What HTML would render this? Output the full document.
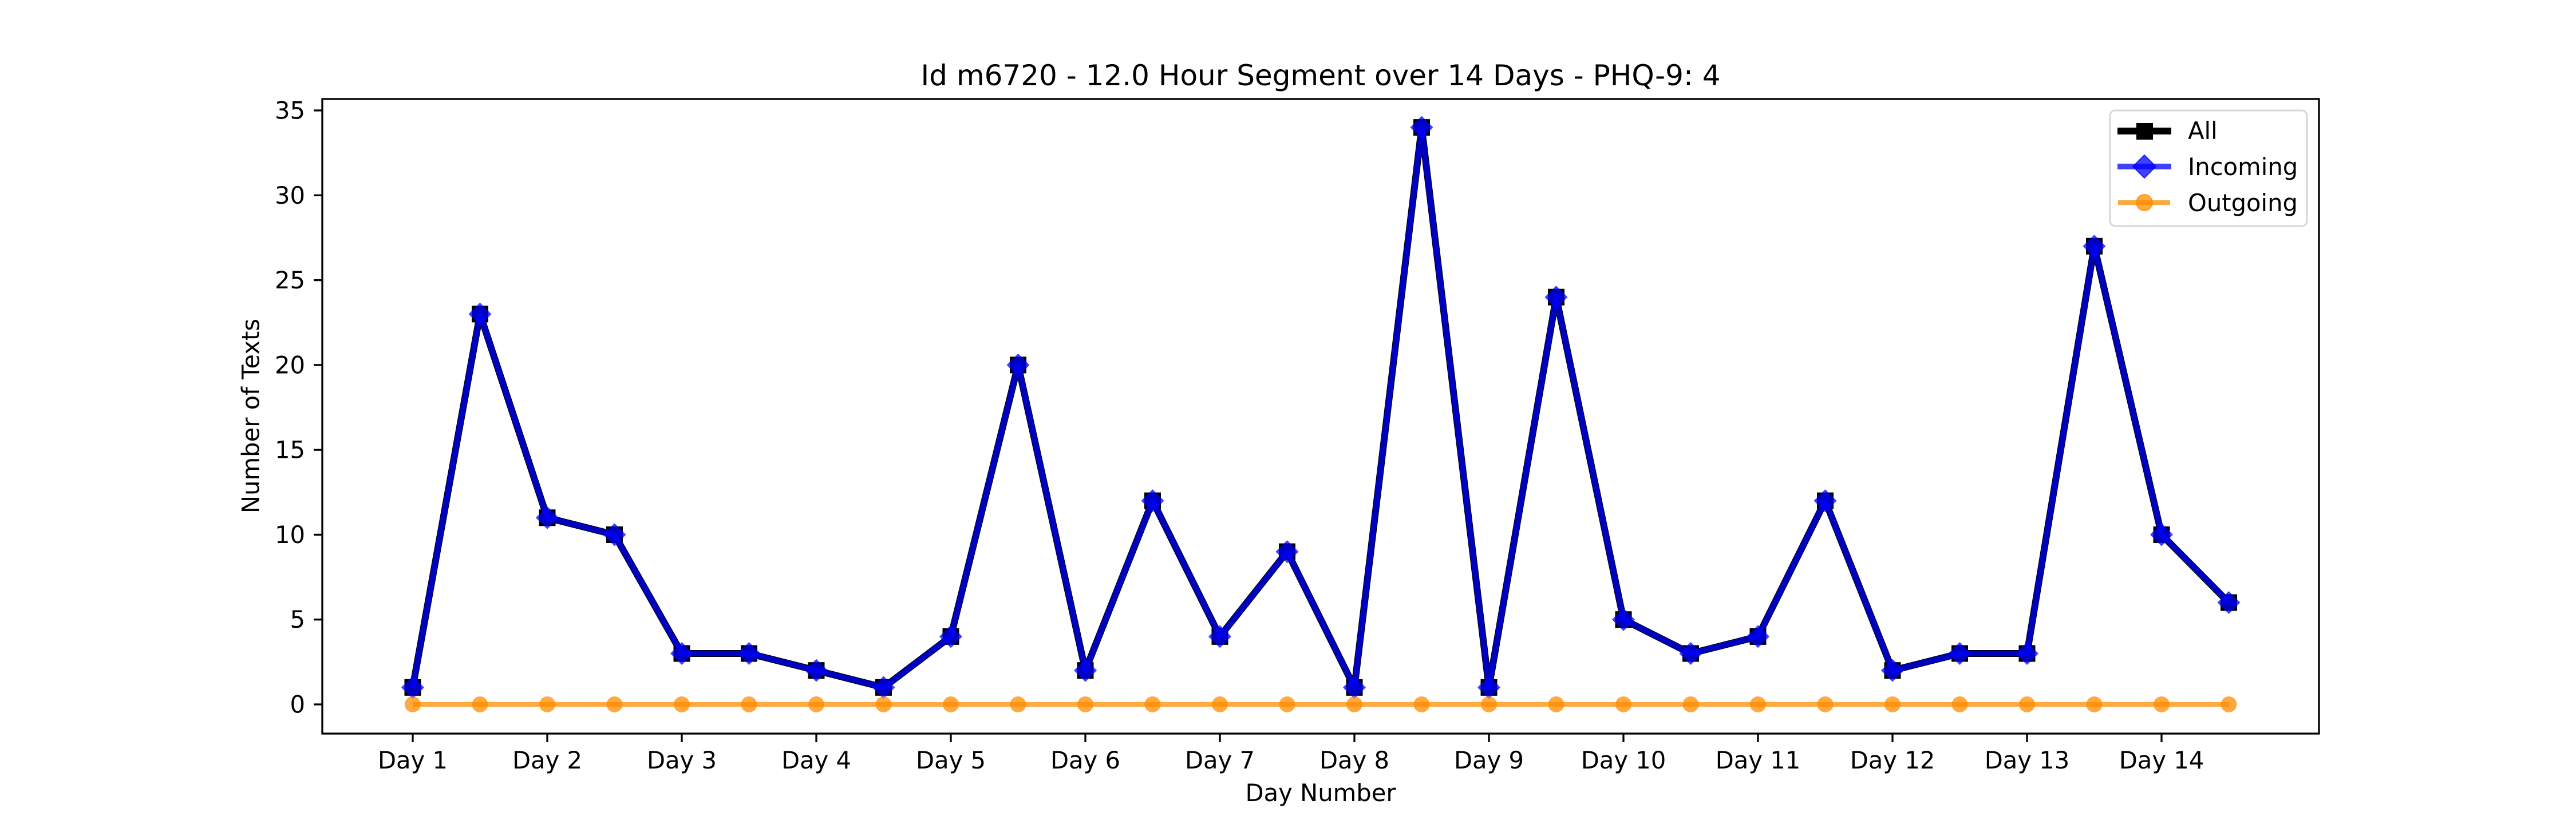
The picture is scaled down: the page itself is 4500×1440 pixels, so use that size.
<!DOCTYPE html>
<html><head><meta charset="utf-8"><style>
html,body{margin:0;padding:0;background:#fff;}
svg{display:block;font-family:"DejaVu Sans","Liberation Sans",sans-serif;}
</style></head><body>
<svg id="chart" width="4500" height="1440" viewBox="0 0 4500 1440" xmlns="http://www.w3.org/2000/svg">
<rect width="4500" height="1440" fill="#fff"/>
<text x="2307" y="149" font-size="50" text-anchor="middle">Id m6720 - 12.0 Hour Segment over 14 Days - PHQ-9: 4</text>
<g id="axes"></g>
<g id="series"></g>
<rect x="563" y="173" width="3488" height="1109" fill="none" stroke="#000" stroke-width="3.3"/>
<text x="438" y="727" font-size="41.7" text-anchor="middle" dominant-baseline="central" transform="rotate(-90 438 727)">Number of Texts</text>
<text x="2307" y="1400" font-size="41.7" text-anchor="middle">Day Number</text>
<g>
<rect x="3686" y="193" width="344" height="202" rx="9" fill="#fff" fill-opacity="0.8" stroke="#d6d6d6" stroke-width="3"/>
<g>
<line x1="3699" y1="229" x2="3793" y2="229" stroke="#000" stroke-width="12"/>
<rect x="3732" y="215" width="29" height="29" fill="#000"/>
<text x="3822" y="243" font-size="41.7">All</text></g>
<g>
<line x1="3699" y1="291" x2="3793" y2="291" stroke="#0000ff" stroke-opacity="0.75" stroke-width="10"/>
<polygon points="3746,271 3766,291 3746,311 3726,291" fill="#0000ff" fill-opacity="0.75" stroke="#0000ff" stroke-opacity="0.75" stroke-width="2"/>
<text x="3822" y="306" font-size="41.7">Incoming</text></g>
<g>
<line x1="3700" y1="354" x2="3791" y2="354" stroke="#ff8c00" stroke-opacity="0.75" stroke-width="8"/>
<circle cx="3746" cy="354" r="14" fill="#ff8c00" fill-opacity="0.75" stroke="#ff8c00" stroke-opacity="0.75" stroke-width="2"/>
<text x="3822" y="369" font-size="41.7">Outgoing</text></g>
</g>
</svg>
<script>
const dayLabels = ["Day 1","Day 2","Day 3","Day 4","Day 5","Day 6","Day 7","Day 8","Day 9","Day 10","Day 11","Day 12","Day 13","Day 14"];
const yTicks = [0,5,10,15,20,25,30,35];
const allValues = [1,23,11,10,3,3,2,1,4,20,2,12,4,9,1,34,1,24,5,3,4,12,2,3,3,27,10,6];
const incomingValues = [1,23,11,10,3,3,2,1,4,20,2,12,4,9,1,34,1,24,5,3,4,12,2,3,3,27,10,6];
const outgoingValues = [0,0,0,0,0,0,0,0,0,0,0,0,0,0,0,0,0,0,0,0,0,0,0,0,0,0,0,0];

const NS = "http://www.w3.org/2000/svg";
const X0 = 721, DX = 117.5;
function xs(i){ return X0 + i*DX; }
function ys(v){ return 1231 - v*(1231-193)/35; }
function mk(tag, attrs, parent){
  const e = document.createElementNS(NS, tag);
  for (const k in attrs) e.setAttribute(k, attrs[k]);
  parent.appendChild(e); return e;
}
const axes = document.getElementById('axes');
yTicks.forEach(t=>{
  const y = ys(t);
  const tk = mk('line',{x1:548,x2:563,y1:y,y2:y,stroke:'#000','stroke-width':3.3},axes);
  
  
  const tx = mk('text',{x:533,y:y,'font-size':41.7,'text-anchor':'end','dominant-baseline':'central'},axes);
  tx.textContent = t;
  
  
});
dayLabels.forEach((d,i)=>{
  const x = xs(i*2);
  const tk = mk('line',{x1:x,x2:x,y1:1282,y2:1297,stroke:'#000','stroke-width':3.3},axes);
  
  
  const tx = mk('text',{x:x,y:1343,'font-size':41.7,'text-anchor':'middle'},axes);
  tx.textContent = d;
  
  
});
const ser = document.getElementById('series');
function pts(arr){ return arr.map((v,i)=>xs(i)+','+ys(v)).join(' '); }
// All
const gA = mk('g',{},ser);


mk('polyline',{points:pts(allValues),fill:'none',stroke:'#000','stroke-width':12,'stroke-linejoin':'round'},gA);
allValues.forEach((v,i)=>{
  const r = mk('rect',{x:xs(i)-14.5,y:ys(v)-14.5,width:29,height:29,fill:'#000'},gA);
  
  
});
// Incoming
const gI = mk('g',{},ser);


mk('polyline',{points:pts(incomingValues),fill:'none',stroke:'#0000ff','stroke-opacity':0.75,'stroke-width':10,'stroke-linejoin':'round'},gI);
incomingValues.forEach((v,i)=>{
  const x=xs(i), y=ys(v);
  const p = mk('polygon',{points:`${x},${y-20} ${x+20},${y} ${x},${y+20} ${x-20},${y}`,fill:'#0000ff','fill-opacity':0.75},gI);
  
  
});
// Outgoing
const gO = mk('g',{},ser);


mk('polyline',{points:pts(outgoingValues),fill:'none',stroke:'#ff8c00','stroke-opacity':0.75,'stroke-width':8},gO);
outgoingValues.forEach((v,i)=>{
  const c = mk('circle',{cx:xs(i),cy:ys(v),r:14,fill:'#ff8c00','fill-opacity':0.75},gO);
  
  
});
</script>
</body></html>
